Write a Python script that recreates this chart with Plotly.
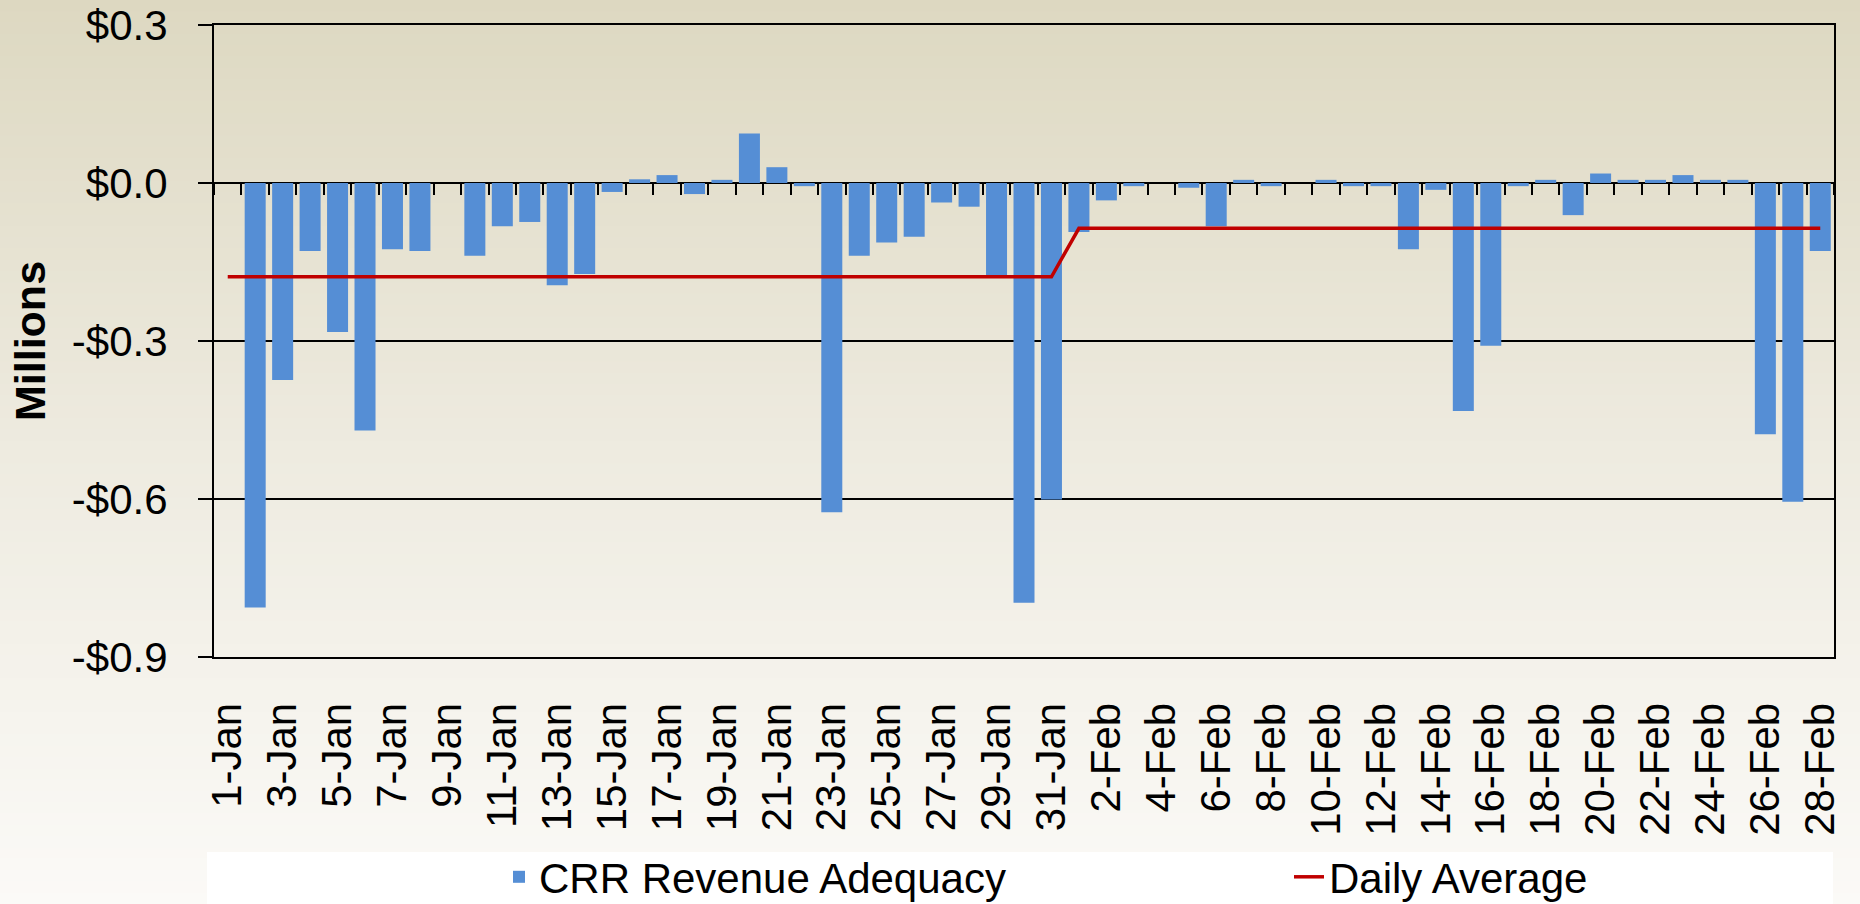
import plotly.graph_objects as go

# ---------------- data ----------------
jan_days = [f"{d}-Jan" for d in range(1, 32)]
feb_days = [f"{d}-Feb" for d in range(1, 29)]
categories = jan_days + feb_days

jan_values = [0.0, -0.806, -0.374, -0.129, -0.283, -0.470, -0.126, -0.129, 0.0, -0.138,
              -0.082, -0.074, -0.194, -0.173, -0.017, 0.007, 0.015, -0.021, 0.006, 0.094,
              0.030, -0.006, -0.625, -0.138, -0.113, -0.102, -0.037, -0.045, -0.175, -0.797,
              -0.601]
feb_values = [-0.093, -0.033, -0.006, 0.0, -0.009, -0.082, 0.006, -0.006, 0.0, 0.006,
              -0.006, -0.006, -0.126, -0.013, -0.433, -0.309, -0.006, 0.006, -0.061, 0.018,
              0.006, 0.006, 0.015, 0.006, 0.006, -0.477, -0.605, -0.129]
crr_values = jan_values + feb_values

jan_average = -0.178
feb_average = -0.086
daily_average = [jan_average] * len(jan_days) + [feb_average] * len(feb_days)

tick_labels = categories[::2]
y_tick_vals = [-0.9, -0.6, -0.3, 0.0, 0.3]
y_tick_text = ["-$0.9", "-$0.6", "-$0.3", "$0.0", "$0.3"]

# ---------------- figure ----------------
W, H = 1860, 904
ML, MR, MT, MB = 214, 26, 25, 247
PW, PH = W - ML - MR, H - MT - MB

def px_to_paper_x(px):
    return (px - ML) / PW

def px_to_paper_y(py):
    return (H - MB - py) / PH

FONT = "Liberation Sans, Arial, sans-serif"

fig = go.Figure()
fig.add_trace(go.Bar(
    x=categories, y=crr_values, name="CRR Revenue Adequacy",
    marker=dict(color="#558ED5", line=dict(width=0)), legend="legend",
))
fig.add_trace(go.Scatter(
    x=categories, y=daily_average, name="Daily Average", mode="lines",
    line=dict(color="#C00000", width=3.5), xaxis="x2", legend="legend2",
))

# background gradient (decoration)
stops = [(0.0, (221, 216, 193)), (0.5, (238, 235, 224)), (1.0, (251, 250, 247))]
def grad(t):
    for (t0, c0), (t1, c1) in zip(stops[:-1], stops[1:]):
        if t <= t1:
            f = (t - t0) / (t1 - t0)
            return tuple(round(a + (b - a) * f) for a, b in zip(c0, c1))
    return stops[-1][1]

shapes = []
N = 80
for i in range(N):
    y0px = H * i / N
    y1px = H * (i + 1) / N + 1
    c = grad((i + 0.5) / N)
    shapes.append(dict(type="rect", xref="paper", yref="paper", layer="below",
                       x0=px_to_paper_x(0), x1=px_to_paper_x(W),
                       y0=px_to_paper_y(y1px), y1=px_to_paper_y(y0px),
                       line=dict(width=0), fillcolor=f"rgb{c}"))
# white legend box
shapes.append(dict(type="rect", xref="paper", yref="paper", layer="below",
                   x0=px_to_paper_x(207), x1=px_to_paper_x(1833),
                   y0=px_to_paper_y(904), y1=px_to_paper_y(852),
                   line=dict(width=0), fillcolor="#FFFFFF"))

legend_common = dict(orientation="h", xanchor="left", yanchor="middle",
                     y=px_to_paper_y(877), bgcolor="rgba(0,0,0,0)",
                     font=dict(size=42, family=FONT, color="#000000"),
                     borderwidth=0)

fig.update_layout(
    width=W, height=H,
    margin=dict(l=ML, r=MR, t=MT, b=MB, autoexpand=False),
    paper_bgcolor="#F8F8F4", plot_bgcolor="rgba(0,0,0,0)",
    font=dict(family=FONT, size=42, color="#000000"),
    bargap=0.235,
    showlegend=True,
    legend=dict(x=px_to_paper_x(499), **legend_common),
    legend2=dict(x=px_to_paper_x(1289), **legend_common),
    shapes=shapes,
    xaxis=dict(type="category", categoryorder="array", categoryarray=categories,
               range=[-0.5, len(categories) - 0.5], automargin=False,
               tickmode="array", tickvals=tick_labels, ticktext=tick_labels,
               tickangle=-90, ticks="", ticklabelstandoff=27,
               tickfont=dict(size=42, family=FONT),
               showline=True, linecolor="#000000", linewidth=2, mirror=True,
               showgrid=False, zeroline=False),
    xaxis2=dict(type="category", matches="x", overlaying="x", anchor="free",
                position=0.75, side="bottom", showticklabels=False, automargin=False,
                ticks="outside", ticklen=11, tickwidth=2, tickcolor="#000000",
                tickson="boundaries", showline=False, showgrid=False, zeroline=False),
    yaxis=dict(range=[-0.9, 0.3], tickmode="array", tickvals=y_tick_vals,
               ticktext=y_tick_text, ticks="outside", ticklen=14, tickwidth=2,
               tickcolor="#000000", ticklabelstandoff=22, automargin=False,
               tickfont=dict(size=42, family=FONT),
               showgrid=True, gridcolor="#000000", gridwidth=2,
               showline=True, linecolor="#000000", linewidth=2, mirror=True,
               zeroline=False),
    annotations=[dict(text="<b>Millions</b>", textangle=-90, showarrow=False,
                      xref="paper", yref="paper", x=px_to_paper_x(30), y=0.5,
                      xanchor="center", yanchor="middle",
                      font=dict(size=43, family=FONT, color="#000000"))],
)

fig.write_html("out.html", config={"displayModeBar": False},
               post_script="document.body.style.margin='0';document.body.style.overflow='hidden';")
